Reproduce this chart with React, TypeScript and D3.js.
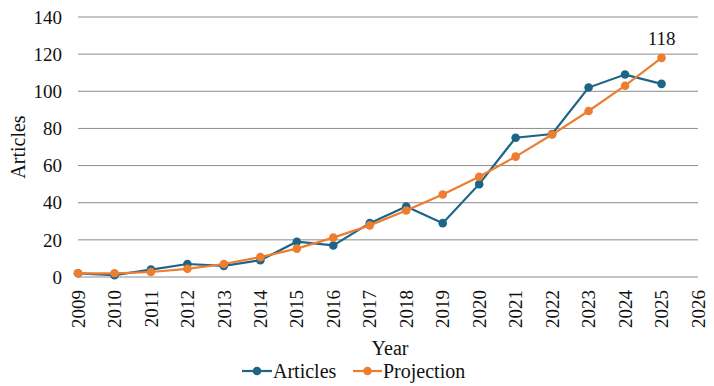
import React from "react";
import { scaleLinear, line, range } from "d3";

const years = range(2009, 2026);
const articles = [2, 1, 4, 7, 6, 9, 19, 17, 29, 38, 29, 50, 75, 77, 102, 109, 104];
const projection = [2, 2, 2.7, 4.4, 7, 10.7, 15.3, 21.2, 27.8, 35.8, 44.4, 54, 64.8, 76.7, 89.4, 103, 118];
const yTicks = [0, 20, 40, 60, 80, 100, 120, 140];
const xTicks = range(2009, 2027);

const width = 714;
const height = 386;
const margin = { top: 17, right: 16, bottom: 109, left: 78 };
const innerWidth = width - margin.left - margin.right;
const innerHeight = height - margin.top - margin.bottom;

const blue = "#1d6487";
const orange = "#ed7d31";
const font = "Liberation Serif";

export default function App() {
  const x = scaleLinear().domain([2009, 2026]).range([0, innerWidth]);
  const y = scaleLinear().domain([0, 140]).range([innerHeight, 0]);

  const series = [
    { name: "Articles", values: articles, color: blue },
    { name: "Projection", values: projection, color: orange },
  ];

  const lineGen = line<number>()
    .x((_, i) => x(years[i]))
    .y((d) => y(d));

  const last = projection.length - 1;
  const txt = { fontFamily: font, fill: "#111" };

  return (
    <svg
      width={width}
      height={height}
      style={{ position: "absolute", left: 0, top: 0 }}
    >
      <rect width={width} height={height} fill="#fff" />
      <g transform={`translate(${margin.left}, ${margin.top})`}>
        {yTicks.map((t) => (
          <g key={t} transform={`translate(0, ${y(t)})`}>
            <line x2={innerWidth} stroke="#8c8c8c" strokeWidth={1} />
            <text x={-16} dy=".35em" textAnchor="end" fontSize={19} {...txt}>
              {t}
            </text>
          </g>
        ))}
        {xTicks.map((t) => (
          <text
            key={t}
            transform={`translate(${x(t)}, ${innerHeight + 13}) rotate(-90)`}
            textAnchor="end"
            dy=".35em"
            fontSize={19}
            {...txt}
          >
            {t}
          </text>
        ))}
        {series.map((s) => (
          <g key={s.name}>
            <path d={lineGen(s.values) || ""} fill="none" stroke={s.color} strokeWidth={2.2} />
            {s.values.map((v, i) => (
              <circle key={i} cx={x(years[i])} cy={y(v)} r={4.3} fill={s.color} />
            ))}
          </g>
        ))}
        <text
          x={x(years[last])}
          y={y(projection[last]) - 13}
          textAnchor="middle"
          fontSize={19}
          {...txt}
        >
          {projection[last]}
        </text>
      </g>
      <text
        transform={`translate(25, ${margin.top + innerHeight / 2}) rotate(-90)`}
        textAnchor="middle"
        fontSize={20}
        {...txt}
      >
        Articles
      </text>
      <text x={390} y={355} textAnchor="middle" fontSize={20} {...txt}>
        Year
      </text>
      <g transform="translate(0, 371)">
        <line x1={242} x2={272} stroke={blue} strokeWidth={2.2} />
        <circle cx={257} cy={0} r={4.3} fill={blue} />
        <text x={273} dy=".35em" fontSize={20} {...txt}>
          Articles
        </text>
        <line x1={353} x2={382} stroke={orange} strokeWidth={2.2} />
        <circle cx={367.5} cy={0} r={4.3} fill={orange} />
        <text x={383} dy=".35em" fontSize={20} {...txt}>
          Projection
        </text>
      </g>
    </svg>
  );
}
